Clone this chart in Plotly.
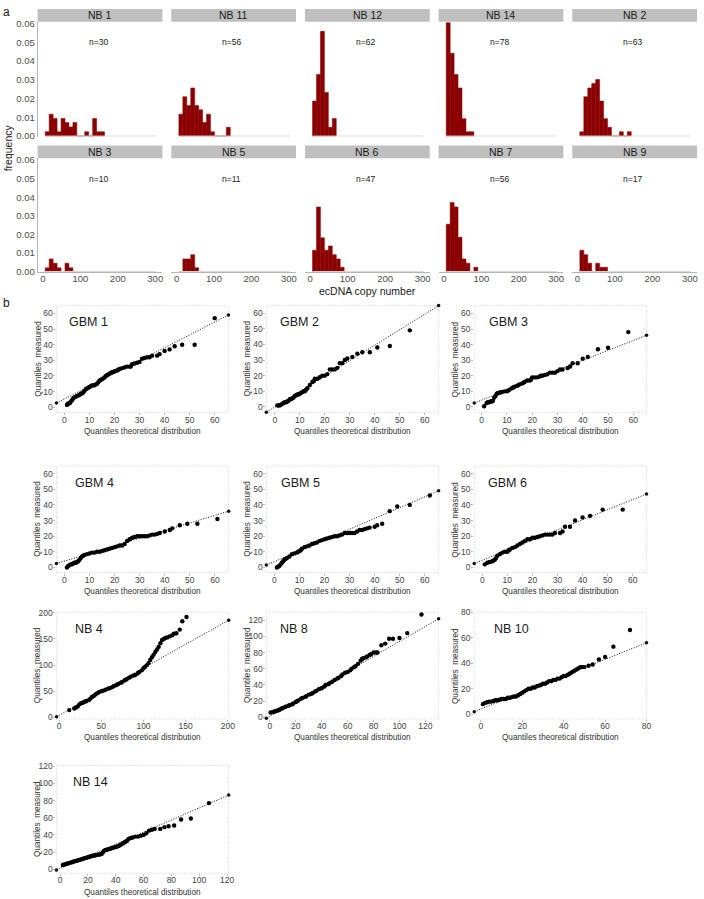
import plotly.graph_objects as go

W, H = 704, 899
FONT = "Liberation Sans, Arial, sans-serif"

# ---------------- DATA: panel a (histograms) ----------------
BIN_START = 6.3
BIN_WIDTH = 10.55
N_BINS = 28
HIST_XTICKS = [0, 100, 200, 300]
HIST_YTICKS = [0, 0.01, 0.02, 0.03, 0.04, 0.05, 0.06]
HIST_YTICKTEXT = ["0.00", "0.01", "0.02", "0.03", "0.04", "0.05", "0.06"]

NB1_FREQ = [0.0023, 0.0117, 0.0094, 0.0023, 0.0094, 0.0072, 0.0049, 0.0072, 0, 0, 0.0023, 0, 0.0094, 0.0023, 0.0023]
NB11_FREQ = [0.0117, 0.0210, 0.0163, 0.0257, 0.0163, 0.0140, 0.0072, 0.0117, 0.0023, 0, 0, 0, 0.0047]
NB12_FREQ = [0.0187, 0.0329, 0.0559, 0.0233, 0.0047, 0.0094]
NB14_FREQ = [0.0605, 0.0442, 0.0329, 0.0257, 0.0093, 0.0023, 0.0023]
NB2_FREQ = [0.0023, 0.0210, 0.0257, 0.0280, 0.0302, 0.0187, 0.0093, 0.0047, 0, 0, 0.0023, 0, 0.0023]
NB3_FREQ = [0.0020, 0.0068, 0.0045, 0.0020, 0, 0.0045, 0.0020]
NB5_FREQ = [0, 0.0068, 0.0068, 0.0091, 0.0020]
NB6_FREQ = [0.0115, 0.0348, 0.0182, 0.0115, 0.0138, 0.0091, 0.0068, 0.0023]
NB7_FREQ = [0.0255, 0.0372, 0.0348, 0.0185, 0.0068, 0.0045, 0, 0.0023]
NB9_FREQ = [0.0115, 0.0091, 0.0045, 0, 0.0045, 0.0023, 0.0023]

HIST_NAMES = ["NB 1", "NB 11", "NB 12", "NB 14", "NB 2", "NB 3", "NB 5", "NB 6", "NB 7", "NB 9"]
HIST_N = [30, 56, 62, 78, 63, 10, 11, 47, 56, 17]
HIST_FREQS = [NB1_FREQ, NB11_FREQ, NB12_FREQ, NB14_FREQ, NB2_FREQ,
              NB3_FREQ, NB5_FREQ, NB6_FREQ, NB7_FREQ, NB9_FREQ]

# ---------------- DATA: panel b (QQ plots) ----------------
GBM1_QQ = [(1.0,1.5),(1.2,2.0),(1.5,2.5),(2.0,2.5),(2.3,3.0),(2.8,4.0),(3.2,5.0),(3.6,6.0),(4.2,6.5),(4.8,7.0),
           (5.5,7.5),(6.0,8.0),(6.5,8.5),(7.0,9.0),(7.5,9.5),(8.0,10.5),(8.5,11.5),(9.0,12.0),(9.5,12.5),(10.0,13.0),
           (10.5,13.5),(11.0,14.0),(11.5,14.0),(12.0,14.0),(12.5,14.5),(13.0,15.0),(13.5,16.0),(14.0,17.0),(14.5,17.5),
           (15.0,18.0),(15.5,18.5),(16.0,19.0),(16.5,20.0),(17.0,20.5),(17.5,21.0),(18.0,21.5),(18.5,22.0),(19.0,22.5),
           (19.5,22.5),(20.0,23.0),(21.0,23.5),(21.5,24.0),(22.0,24.5),(23.0,25.0),(24.0,25.5),(25.0,26.0),(26.0,26.0),
           (26.5,26.0),(27.0,27.5),(28.0,28.0),(29.0,28.5),(30.0,29.0),(31.0,31.0),(32.0,31.5),(33.0,32.0),(34.0,32.0),
           (35.0,33.0),(37.0,33.0),(38.0,34.0),(40.0,36.0),(42.0,37.0),(44.0,39.0),(47.0,40.0),(52.0,40.0),(60.0,57.0)]
GBM1_REF = [(-3.2, 2.7), (65.5, 59.0)]

GBM2_QQ = [(1.0,1.0),(1.5,1.0),(2.0,1.0),(2.5,1.5),(3.0,2.0),(3.5,2.5),(4.0,3.0),(4.5,3.0),(5.0,3.5),(5.5,4.0),
           (6.0,5.0),(6.5,5.0),(7.0,5.5),(7.5,6.0),(8.0,7.0),(8.5,7.5),(9.0,8.0),(9.5,8.0),(10.0,8.5),(10.5,9.0),
           (11.0,9.5),(11.5,10.0),(12.0,10.0),(12.5,11.0),(13.0,12.0),(14.0,14.0),(15.0,16.0),(15.5,16.5),(16.0,18.0),
           (17.0,18.0),(18.0,19.0),(19.0,20.0),(20.0,20.0),(21.0,21.0),(22.0,24.0),(23.0,24.0),(24.0,24.0),(25.0,25.0),
           (26.0,28.0),(27.0,28.0),(28.0,30.0),(29.0,31.0),(31.0,32.0),(33.0,34.0),(35.0,35.0),(38.0,35.0),(41.0,38.0),
           (46.0,39.0),(54.0,49.0)]
GBM2_REF = [(-3.4, -3.4), (65.5, 64.8)]

GBM3_QQ = [(1.0,0.5),(2.0,2.5),(2.5,3.0),(3.0,3.0),(3.5,3.5),(4.0,3.5),(4.5,4.0),(5.0,6.0),(5.5,7.0),(6.0,8.5),
           (6.5,9.0),(7.0,9.0),(7.5,9.5),(8.0,9.5),(9.0,10.0),(10.0,10.0),(10.5,10.5),(11.0,11.0),(12.0,12.0),(12.5,12.5),
           (13.0,13.0),(14.0,13.5),(14.5,14.0),(15.0,14.5),(16.0,15.0),(16.5,15.5),(17.0,16.0),(18.0,17.0),(19.0,17.0),
           (19.5,17.5),(20.0,19.0),(21.0,19.0),(22.0,19.0),(23.0,19.5),(23.5,20.0),(24.0,20.0),(25.0,20.5),(26.0,21.0),
           (27.0,22.0),(28.0,22.0),(29.0,22.0),(30.0,23.0),(31.0,24.0),(32.0,24.0),(34.0,25.0),(35.0,26.0),(36.0,28.0),
           (38.0,28.0),(40.0,31.0),(42.0,32.0),(46.0,37.0),(50.0,38.0),(58.0,48.0)]
GBM3_REF = [(-2.9, 2.5), (65.2, 46.0)]

GBM4_QQ = [(1.0,0.0),(1.5,1.0),(2.0,1.5),(2.5,2.0),(3.0,2.0),(3.5,2.5),(4.0,3.0),(4.5,3.0),(5.0,3.5),(5.5,4.0),
           (6.0,5.0),(6.5,6.0),(7.0,7.0),(7.5,7.5),(8.0,8.0),(9.0,8.5),(10.0,9.0),(11.0,9.5),(12.0,9.5),(13.0,10.0),
           (14.0,10.0),(15.0,10.5),(16.0,11.0),(17.0,11.5),(18.0,12.0),(19.0,12.5),(20.0,13.0),(21.0,13.5),(22.0,14.0),
           (23.0,14.0),(24.0,15.0),(25.0,17.0),(26.0,18.0),(27.0,19.0),(28.0,19.5),(29.0,20.0),(30.0,20.0),(31.0,20.0),
           (32.0,20.0),(33.0,20.0),(34.0,20.5),(35.0,21.0),(36.0,21.0),(37.0,21.5),(38.0,22.0),(40.0,23.0),(42.0,24.0),
           (43.0,25.0),(46.0,27.0),(49.0,28.0),(53.0,28.0),(61.0,31.0)]
GBM4_REF = [(-3.2, 2.5), (65.5, 36.0)]

GBM5_QQ = [(1.0,0.0),(1.5,0.5),(2.0,1.0),(2.5,2.0),(3.0,3.0),(3.5,4.0),(4.0,5.0),(4.5,5.5),(5.0,6.0),(6.0,7.0),
           (7.0,8.5),(8.0,9.0),(9.0,9.5),(9.5,10.0),(10.0,10.5),(10.5,11.0),(11.0,12.0),(12.0,13.0),(13.0,13.5),
           (14.0,14.0),(15.0,15.0),(16.0,15.5),(17.0,16.0),(18.0,17.0),(19.0,17.5),(20.0,18.0),(21.0,18.5),(22.0,19.0),
           (23.0,19.5),(24.0,20.0),(25.0,20.0),(26.0,20.5),(27.0,21.0),(28.0,22.0),(29.0,22.0),(30.0,22.0),(31.0,22.0),
           (32.0,22.0),(33.0,23.0),(34.0,24.0),(35.0,24.0),(36.0,24.5),(37.0,25.0),(38.0,25.5),(40.0,26.0),(41.0,27.0),
           (43.0,28.0),(46.0,36.0),(49.0,39.0),(54.0,40.0),(62.0,46.0)]
GBM5_REF = [(-3.2, 1.5), (65.5, 49.0)]

GBM6_QQ = [(1.0,2.0),(2.0,3.0),(3.0,3.5),(4.0,4.0),(4.5,4.5),(5.0,5.0),(5.5,6.0),(6.0,7.5),(7.0,8.5),(8.0,9.5),
           (9.0,10.0),(10.0,10.0),(10.5,11.0),(11.0,11.5),(12.0,12.5),(13.0,13.0),(14.0,14.0),(15.0,15.0),(16.0,16.0),
           (17.0,17.0),(18.0,18.0),(19.0,18.0),(20.0,19.0),(21.0,19.0),(22.0,19.5),(23.0,20.0),(24.0,20.5),(25.0,21.0),
           (26.0,21.0),(27.0,21.0),(28.0,21.0),(29.0,22.0),(31.0,22.0),(32.0,23.0),(33.0,26.0),(35.0,26.0),(37.0,30.0),
           (40.0,32.0),(43.0,33.0),(48.0,37.0),(56.0,37.0)]
GBM6_REF = [(-3.2, 2.5), (65.5, 47.0)]

NB4_QQ = [(12,14),(18,17),(20,19),(22,21),(24,25),(26,27),(28,28),(30,30),(32,31),(35,33),(37,36),(39,39),(41,41),
          (43,44),(45,46),(47,48),(50,50),(52,51),(55,53),(58,55),(60,56),(63,58),(65,60),(68,62),(70,64),(73,66),
          (75,68),(78,71),(80,73),(83,76),(85,78),(88,80),(90,81),(93,84),(95,87),(98,90),(100,94),(102,97),(104,100),
          (106,104),(108,110),(110,115),(112,120),(114,125),(116,130),(118,135),(120,142),(122,148),(124,150),(126,152),
          (128,153),(131,155),(134,157),(136,160),(139,161),(143,168),(146,184),(151,192)]
NB4_REF = [(-3.0, 1.3), (201.0, 186.0)]

NB8_QQ = [(0.5,6),(2,6.5),(3,7),(4,7.5),(5,8),(6,8.5),(7,9),(8,10),(9,11),(10,11.5),(12,13),(14,14),(15,15),(17,16),
          (18,17),(20,19),(21,20),(22,21),(24,23),(25,24),(27,25),(28,26),(30,28),(32,29),(33,30),(35,32),(36,33),
          (38,35),(40,36),(42,38),(43,40),(45,41),(46,42),(48,44),(50,46),(52,48),(53,49),(55,51),(56,53),(58,55),
          (60,56),(62,58),(63,60),(65,62),(66,63),(68,66),(70,70),(71,72),(72,73),(74,74),(75,75),(77,77),(78,78),
          (80,80),(82,80),(83,80),(86,89),(89,91),(92,97),(95,97),(100,98),(106,104),(117,127)]
NB8_REF = [(-2.8, -1.2), (130.2, 121.6)]

NB10_QQ = [(1,8),(2,9),(3,9.5),(4,10),(5,10),(6,10.5),(7,11),(8,11),(9,11.5),(10,12),(11,12),(12,12),(13,13),(14,13),
           (15,13.5),(16,14),(17,14),(18,15),(19,16),(20,17),(21,18),(22,19),(23,20),(24,20),(25,21),(26,21),(27,22),
           (28,22.5),(29,23),(30,24),(31,24),(32,25),(33,26),(34,26),(35,27),(36,27),(37,28),(38,28),(39,29),(40,30),
           (41,30),(42,31),(43,32),(44,33),(45,34),(46,35),(47,36),(48,37),(49,37),(50,37),(52,38),(54,39),(57,43),
           (60,45),(64,53),(72,66)]
NB10_REF = [(-3.2, 2.1), (80.0, 56.0)]

NB14_QQ = [(2,5),(3,5.5),(4,6),(5,6.5),(6,7),(7,7.5),(8,8),(9,8.5),(10,9),(11,9.5),(12,10),(13,10.5),(14,11),(15,11.5),
           (16,12),(17,12.5),(18,13),(19,13.5),(20,14),(21,14.5),(22,15),(23,15.5),(24,16),(25,16),(26,16.5),(27,17),
           (28,17),(29,17.5),(30,18),(31,20),(32,22),(33,22.5),(34,23),(35,23.5),(36,24),(37,24.5),(38,25),(39,25.5),
           (40,26),(41,26.5),(42,27),(43,28),(44,29),(45,30),(46,31),(47,32),(48,33),(49,35),(50,36),(51,36.5),(52,37),
           (54,38),(56,38),(58,39),(60,40),(62,42),(64,45),(66,46),(68,47),(72,47),(75,49),(78,50),(82,51),(87,58),
           (94,59),(107,77)]
NB14_REF = [(-2.6, -0.8), (121.2, 86.3)]

GBM_TICKS = [0, 10, 20, 30, 40, 50, 60]
NB4_TICKS = [0, 50, 100, 150, 200]
NB8_TICKS = [0, 20, 40, 60, 80, 100, 120]
NB10_TICKS = [0, 20, 40, 60, 80]
NB14_TICKS = [0, 20, 40, 60, 80, 100, 120]

# name, points, ref line, x range, y range, x ticks, y ticks, grid row, grid col, title offset
QQ_PANELS = [
    ("GBM 1", GBM1_QQ, GBM1_REF, [-3.2, 65.6], [-3.3, 65.0], GBM_TICKS, GBM_TICKS, 0, 0, 11),
    ("GBM 2", GBM2_QQ, GBM2_REF, [-3.4, 65.5], [-3.5, 64.8], GBM_TICKS, GBM_TICKS, 0, 1, 12),
    ("GBM 3", GBM3_QQ, GBM3_REF, [-2.9, 65.2], [-3.5, 65.0], GBM_TICKS, GBM_TICKS, 0, 2, 13),
    ("GBM 4", GBM4_QQ, GBM4_REF, [-3.2, 65.5], [-3.3, 65.0], GBM_TICKS, GBM_TICKS, 1, 0, 17),
    ("GBM 5", GBM5_QQ, GBM5_REF, [-3.2, 65.5], [-3.3, 65.0], GBM_TICKS, GBM_TICKS, 1, 1, 13),
    ("GBM 6", GBM6_QQ, GBM6_REF, [-3.2, 65.5], [-3.3, 65.0], GBM_TICKS, GBM_TICKS, 1, 2, 12),
    ("NB 4", NB4_QQ, NB4_REF, [-3.2, 201.0], [-3.0, 201.3], NB4_TICKS, NB4_TICKS, 2, 0, 17),
    ("NB 8", NB8_QQ, NB8_REF, [-2.8, 130.2], [-2.0, 129.8], NB8_TICKS, NB8_TICKS, 2, 1, 12),
    ("NB 10", NB10_QQ, NB10_REF, [-3.2, 80.0], [-3.6, 80.0], NB10_TICKS, NB10_TICKS, 2, 2, 18),
    ("NB 14", NB14_QQ, NB14_REF, [-2.6, 121.2], [-4.6, 120.8], NB14_TICKS, NB14_TICKS, 3, 0, 15),
]

# ---------------- LAYOUT GEOMETRY (pixels) ----------------
def fx(p):
    return p / W


def fy(p):
    return 1 - p / H


HIST_LEFTS = [38, 173, 308, 443, 578]
HIST_W = 126
HIST_ROWS = [dict(strip=(4, 17), plot=(17, 133.3)), dict(strip=(142, 155), plot=(155, 270.3))]

QQ_LEFTS = [57, 269, 479]
QQ_W = 174
QQ_ROWS = [(304, 412), (466, 574), (614, 722), (769, 878)]

fig = go.Figure()
layout = dict(width=W, height=H, margin=dict(l=0, r=0, t=0, b=0), paper_bgcolor="white",
              plot_bgcolor="white", showlegend=False, barmode="overlay",
              font=dict(family=FONT, color="#222222"))
shapes = []
annotations = []
counter = [0]


def new_axes(x0, x1, ytop, ybot, xa, ya):
    counter[0] += 1
    n = counter[0]
    s = "" if n == 1 else str(n)
    layout["xaxis" + s] = dict(xa, domain=[fx(x0), fx(x1)], anchor="y" + s)
    layout["yaxis" + s] = dict(ya, domain=[fy(ybot), fy(ytop)], anchor="x" + s)
    return "x" + s, "y" + s


# ---------------- panel a ----------------
for i, (name, n, freqs) in enumerate(zip(HIST_NAMES, HIST_N, HIST_FREQS)):
    r, c = divmod(i, 5)
    left = HIST_LEFTS[c]
    row = HIST_ROWS[r]
    xa = dict(range=[-14, 319], showgrid=False, zeroline=False, showline=(r == 1),
              linecolor="#b5b5b5", linewidth=1, tickvals=HIST_XTICKS, showticklabels=(r == 1),
              ticks="", ticklabelstandoff=-3,
              tickfont=dict(size=9.5, color="#4d4d4d", family=FONT))
    ya = dict(range=[-0.0004, 0.061], showgrid=False, zeroline=False, showline=(c == 0),
              linecolor="#b5b5b5", linewidth=1, tickvals=HIST_YTICKS, ticktext=HIST_YTICKTEXT,
              showticklabels=(c == 0), ticks="", tickfont=dict(size=9.5, color="#4d4d4d", family=FONT))
    xr, yr = new_axes(left, left + HIST_W, row["plot"][0], row["plot"][1], xa, ya)
    centers = [BIN_START + (k + 0.5) * BIN_WIDTH for k in range(len(freqs))]
    fig.add_trace(go.Scatter(x=[BIN_START, BIN_START + N_BINS * BIN_WIDTH], y=[0, 0], mode="lines",
                             line=dict(color="#e2d4d4", width=1), xaxis=xr, yaxis=yr, hoverinfo="skip"))
    fig.add_trace(go.Bar(x=centers, y=freqs, width=BIN_WIDTH, xaxis=xr, yaxis=yr,
                         marker=dict(color="#8B0000", line=dict(color="#8B0000", width=0.5))))
    # strip
    shapes.append(dict(type="rect", xref="paper", yref="paper", x0=fx(left), x1=fx(left + HIST_W),
                       y0=fy(row["strip"][1]), y1=fy(row["strip"][0]), fillcolor="#BFBFBF",
                       line=dict(width=0), layer="below"))
    annotations.append(dict(xref="paper", yref="paper", x=fx(left + HIST_W / 2),
                            y=fy((row["strip"][0] + row["strip"][1]) / 2), text=name, showarrow=False,
                            xanchor="center", yanchor="middle", font=dict(size=10.5, color="#1a1a1a", family=FONT)))
    annotations.append(dict(xref=xr, yref=yr, x=148, y=0.05, text="n=%d" % n, showarrow=False,
                            xanchor="center", yanchor="middle", font=dict(size=8.5, color="#1a1a1a", family=FONT)))

annotations.append(dict(xref="paper", yref="paper", x=fx(8), y=fy(144), text="frequency", textangle=-90,
                        showarrow=False, xanchor="center", yanchor="middle",
                        font=dict(size=10.5, color="#1a1a1a", family=FONT)))
annotations.append(dict(xref="paper", yref="paper", x=fx(371), y=fy(289), text="ecDNA copy number",
                        showarrow=False, xanchor="center", yanchor="middle",
                        font=dict(size=10.5, color="#1a1a1a", family=FONT)))
annotations.append(dict(xref="paper", yref="paper", x=fx(1), y=fy(-2), text="a", showarrow=False,
                        xanchor="left", yanchor="top", font=dict(size=12, color="#1a1a1a", family=FONT)))
annotations.append(dict(xref="paper", yref="paper", x=fx(1), y=fy(292), text="b", showarrow=False,
                        xanchor="left", yanchor="top", font=dict(size=12, color="#1a1a1a", family=FONT)))

# ---------------- panel b ----------------
for (name, pts, ref, xrng, yrng, xt, yt, r, c, toff) in QQ_PANELS:
    left = QQ_LEFTS[c]
    top, bot = QQ_ROWS[r]
    tickf = dict(size=8.5, color="#444444", family=FONT)
    xa = dict(range=xrng, tickvals=xt, showgrid=False, zeroline=False, showline=False, ticks="outside",
              ticklen=2, tickcolor="#bbbbbb", tickfont=tickf, ticklabelstandoff=-3)
    ya = dict(range=yrng, tickvals=yt, showgrid=False, zeroline=False, showline=False, ticks="outside",
              ticklen=2, tickcolor="#bbbbbb", tickfont=tickf, ticklabelstandoff=-1)
    xr, yr = new_axes(left, left + QQ_W, top, bot, xa, ya)
    fig.add_trace(go.Scatter(x=[p[0] for p in ref], y=[p[1] for p in ref], mode="lines+markers",
                             line=dict(color="#111111", width=1, dash="1px,1.6px"),
                             marker=dict(size=3.5, color="#111111"), cliponaxis=False,
                             xaxis=xr, yaxis=yr))
    fig.add_trace(go.Scatter(x=[p[0] for p in pts], y=[p[1] for p in pts], mode="markers",
                             marker=dict(size=4.4, color="#000000"), cliponaxis=False,
                             xaxis=xr, yaxis=yr))
    shapes.append(dict(type="rect", xref="paper", yref="paper", x0=fx(left), x1=fx(left + QQ_W),
                       y0=fy(bot), y1=fy(top), line=dict(color="#d2d2d2", width=1, dash="1px,1.5px"),
                       fillcolor="rgba(0,0,0,0)", layer="below"))
    annotations.append(dict(xref="paper", yref="paper", x=fx(left + toff), y=fy(top + 17), text=name,
                            showarrow=False, xanchor="left", yanchor="middle",
                            font=dict(size=12.5, color="#1a1a1a", family=FONT)))
    annotations.append(dict(xref="paper", yref="paper", x=fx(left + QQ_W / 2), y=fy(bot + 19),
                            text="Quantiles theoretical distribution", showarrow=False,
                            xanchor="center", yanchor="middle", font=dict(size=8.2, color="#333333", family=FONT)))
    annotations.append(dict(xref="paper", yref="paper", x=fx(left - 19), y=fy((top + bot) / 2),
                            text="Quantiles\u00a0 measured", textangle=-90, showarrow=False,
                            xanchor="center", yanchor="middle", font=dict(size=8.2, color="#333333", family=FONT)))

layout["shapes"] = shapes
layout["annotations"] = annotations
fig.update_layout(**layout)
fig.write_html("out.html", config={"displayModeBar": False},
               post_script="document.body.style.margin='0';document.body.style.padding='0';")
